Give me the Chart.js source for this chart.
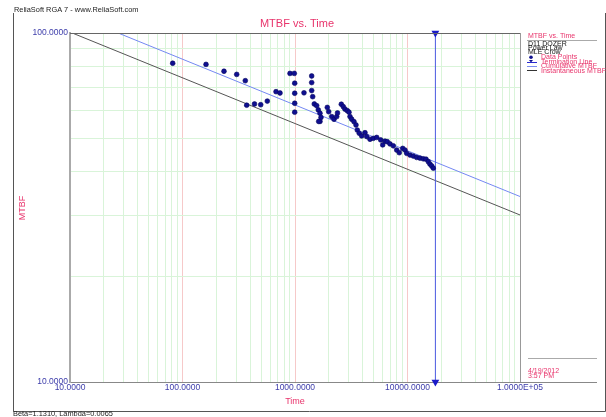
<!DOCTYPE html>
<html>
<head>
<meta charset="utf-8">
<script src="https://cdn.jsdelivr.net/npm/chart.js@4/dist/chart.umd.min.js"></script>
<style>
html,body{margin:0;padding:0;background:#fff;}
#wrap{width:606px;height:417px;position:relative;}
</style>
</head>
<body>
<div id="wrap"><canvas id="c" width="606" height="417"></canvas></div>
<script>
// ---- data ----
const failTimes = [81.8,161.8,233.8,303.3,361.6,372.1,436.5,495.7,567.2,678,735.8,902.7,985.9,993.9,993.9,993.9,993.9,
  1202,1407,1407,1407,1436,1484,1559,1611,1668,1702,1668,1624,1937,1993,2120,2222,2348,2387,2580,2687,2783,2917,3020,
  3083,3192,3345,3485,3580,3729,3916,4191,4338,4642,4966,5323,5779,6020,6310,6613,6990,7477,8017,8455,9065,9502,9837,
  10525,11262,12068,12915,13817,14602,15306,15849,16410,16955];
const mtbfValues = [81.9,81.3,77.7,76.1,73.0,62.1,62.6,62.3,63.8,67.9,67.3,76.6,76.6,71.8,67.2,62.9,59.3,
  67.4,75.3,72.1,68.4,65.7,62.6,61.9,60.2,58.9,57.3,55.8,55.8,61.2,59.5,57.6,56.6,57.6,59.0,62.5,61.5,60.5,59.9,59.3,
  57.6,56.6,55.7,54.5,52.7,51.6,50.7,51.8,50.5,49.6,49.9,50.2,49.4,47.8,49.0,48.8,48.1,47.5,46.2,45.4,46.7,46.2,45.2,
  44.7,44.4,44.0,43.8,43.6,43.5,42.8,42.1,41.6,41.0];
const cumTimes = [10, 100000];
const cumMtbf = [113.8, 34.0];
const instTimes = [10, 100000];
const instMtbf = [100.6, 30.1];
const termTimes = [17700, 17700];
const termMtbf = [10, 100];
const xDecades = [10, 100, 1000, 10000, 100000];
const xDecadeLabels = ['10.0000', '100.0000', '1000.0000', '10000.0000', '1.0000E+05'];
const yDecades = [10, 100];
const yDecadeLabels = ['10.0000', '100.0000'];
const legendTitle = 'MTBF vs. Time';
const legendInfo = ['D11 DOZER', 'Power Law', 'MLE Crow'];
const legendItems = ['Data Points', 'Termination Line', 'Cumulative MTBF', 'Instantaneous MTBF'];

// ---- helpers ----
const PINK = '#e8336b';
const TICKBLUE = '#3c3caa';
const GREEN = '#d9f4d9';
const RED = '#f6c9c9';
function gridValues(decades){
  const v = [];
  for (let i = 0; i < decades.length; i++){
    v.push(decades[i]);
    if (i < decades.length - 1) for (let k = 2; k <= 9; k++) v.push(decades[i] * k);
  }
  return v;
}
function isDecade(val, decades){ return decades.some(d => Math.abs(val - d) / d < 1e-6); }
function labelFor(val, decades, labels){
  for (let i = 0; i < decades.length; i++) if (Math.abs(val - decades[i]) / decades[i] < 1e-6) return labels[i];
  return '';
}
const pts = (xs, ys) => xs.map((x, i) => ({x: x, y: ys[i]}));

const decor = {
  id: 'decor',
  afterDraw(chart){
    const ctx = chart.ctx, a = chart.chartArea;
    ctx.save();
    // plot borders (top / right)
    ctx.strokeStyle = '#666'; ctx.lineWidth = 1;
    ctx.beginPath(); ctx.moveTo(a.left, a.top + 0.5); ctx.lineTo(a.right, a.top + 0.5); ctx.stroke();
    ctx.strokeStyle = '#999';
    ctx.beginPath(); ctx.moveTo(a.right + 0.5, a.top); ctx.lineTo(a.right + 0.5, a.bottom); ctx.stroke();
    // legend panel bottom line and separators
    ctx.strokeStyle = '#888';
    ctx.beginPath(); ctx.moveTo(a.right, a.bottom + 0.5); ctx.lineTo(597, a.bottom + 0.5); ctx.stroke();
    ctx.strokeStyle = '#aaa';
    ctx.beginPath(); ctx.moveTo(527, 40.5); ctx.lineTo(597, 40.5); ctx.stroke();
    ctx.beginPath(); ctx.moveTo(528, 358.5); ctx.lineTo(597, 358.5); ctx.stroke();
    // outer frame
    ctx.strokeStyle = '#555';
    ctx.beginPath(); ctx.moveTo(13.5, 13); ctx.lineTo(13.5, 411.5); ctx.lineTo(605.5, 411.5); ctx.lineTo(605.5, 13); ctx.stroke();

    // texts
    ctx.textBaseline = 'middle';
    ctx.textAlign = 'left';
    ctx.font = '7.4px "Liberation Sans", Arial, sans-serif';
    ctx.fillStyle = '#222';
    ctx.fillText('ReliaSoft RGA 7 - www.ReliaSoft.com', 14, 10);
    ctx.fillText('Beta=1.1310, Lambda=0.0065', 13, 414);

    ctx.textAlign = 'center';
    ctx.fillStyle = PINK;
    ctx.font = '11px "Liberation Sans", Arial, sans-serif';
    ctx.fillText('MTBF vs. Time', 297, 24);
    ctx.font = '9px "Liberation Sans", Arial, sans-serif';
    ctx.fillText('Time', 295, 402);
    ctx.save();
    ctx.translate(23, 208); ctx.rotate(-Math.PI / 2);
    ctx.fillText('MTBF', 0, 0);
    ctx.restore();

    // legend
    ctx.textAlign = 'left';
    ctx.font = '7px "Liberation Sans", Arial, sans-serif';
    ctx.fillStyle = PINK;
    ctx.fillText(legendTitle, 528, 36);
    ctx.fillStyle = '#111';
    const infoY = [44.5, 48.5, 52.5];
    legendInfo.forEach((t, i) => ctx.fillText(t, 528, infoY[i]));
    const itemY = [57.5, 62, 66.5, 70.8];
    ctx.fillStyle = PINK;
    legendItems.forEach((t, i) => ctx.fillText(t, 541, itemY[i]));
    // legend symbols
    ctx.fillStyle = '#10108f';
    ctx.beginPath(); ctx.arc(531, 57.3, 1.8, 0, Math.PI * 2); ctx.fill();
    ctx.strokeStyle = '#2a2ad0'; ctx.lineWidth = 1;
    ctx.beginPath(); ctx.moveTo(527, 62.5); ctx.lineTo(537, 62.5); ctx.stroke();
    ctx.beginPath(); ctx.moveTo(529, 60); ctx.lineTo(533, 60); ctx.lineTo(531, 62.5); ctx.closePath(); ctx.fill();
    ctx.strokeStyle = '#7a8cf0';
    ctx.beginPath(); ctx.moveTo(527, 66.5); ctx.lineTo(537, 66.5); ctx.stroke();
    ctx.strokeStyle = '#333';
    ctx.beginPath(); ctx.moveTo(527, 70.5); ctx.lineTo(537, 70.5); ctx.stroke();

    ctx.fillStyle = PINK;
    ctx.fillText('4/19/2012', 528, 371.5);
    ctx.fillText('3:57 PM', 528, 376.5);
    ctx.restore();
  }
};

const bgPlugin = {
  id: 'bg',
  beforeDraw(chart){
    const ctx = chart.ctx;
    ctx.save(); ctx.fillStyle = '#fff'; ctx.fillRect(0, 0, chart.width, chart.height); ctx.restore();
  }
};

new Chart(document.getElementById('c'), {
  type: 'scatter',
  data: {
    datasets: [
      { label: 'Instantaneous MTBF', data: pts(instTimes, instMtbf), showLine: true, borderColor: '#555', borderWidth: 1,
        pointRadius: 0, clip: 0, order: 4 },
      { label: 'Cumulative MTBF', data: pts(cumTimes, cumMtbf), showLine: true, borderColor: '#7488f2', borderWidth: 1,
        pointRadius: 0, clip: 0, order: 3 },
      { label: 'Termination Line', data: pts(termTimes, termMtbf), showLine: true, borderColor: '#4a5ae0', borderWidth: 1,
        pointStyle: 'triangle', rotation: 180, pointRadius: 4.5, pointBackgroundColor: '#1a1ac8', pointBorderColor: '#1a1ac8',
        pointBorderWidth: 0, clip: false, order: 2 },
      { label: 'Data Points', data: pts(failTimes, mtbfValues), showLine: false, pointRadius: 2.4,
        pointBackgroundColor: '#0f0f90', pointBorderColor: '#06065e', pointBorderWidth: 0.6, order: 1 }
    ]
  },
  options: {
    responsive: false,
    animation: false,
    devicePixelRatio: 1,
    layout: { padding: { left: 0, top: 33, right: 86, bottom: 0 } },
    plugins: { legend: { display: false }, title: { display: false }, tooltip: { enabled: false } },
    scales: {
      x: {
        type: 'logarithmic', min: 10, max: 100000,
        afterBuildTicks: s => { s.ticks = gridValues(xDecades).map(v => ({value: v})); },
        afterFit: s => { s.height = 35; },
        ticks: {
          autoSkip: false, maxRotation: 0, padding: 1, color: TICKBLUE,
          font: { family: '"Liberation Sans", Arial, sans-serif', size: 8.5 },
          callback: v => labelFor(v, xDecades, xDecadeLabels)
        },
        grid: {
          drawTicks: false,
          color: c => (c.tick && isDecade(c.tick.value, xDecades)) ? RED : GREEN,
          lineWidth: 1
        },
        border: { color: '#888', width: 1 }
      },
      y: {
        type: 'logarithmic', min: 10, max: 100,
        afterBuildTicks: s => { s.ticks = gridValues(yDecades).map(v => ({value: v})); },
        afterFit: s => { s.width = 70; },
        ticks: {
          autoSkip: false, padding: 2, color: TICKBLUE,
          font: { family: '"Liberation Sans", Arial, sans-serif', size: 8.5 },
          callback: v => labelFor(v, yDecades, yDecadeLabels)
        },
        grid: {
          drawTicks: false,
          color: c => (c.tick && isDecade(c.tick.value, yDecades)) ? RED : GREEN,
          lineWidth: 1
        },
        border: { color: '#aaa', width: 2 }
      }
    }
  },
  plugins: [bgPlugin, decor]
});
</script>
</body>
</html>
